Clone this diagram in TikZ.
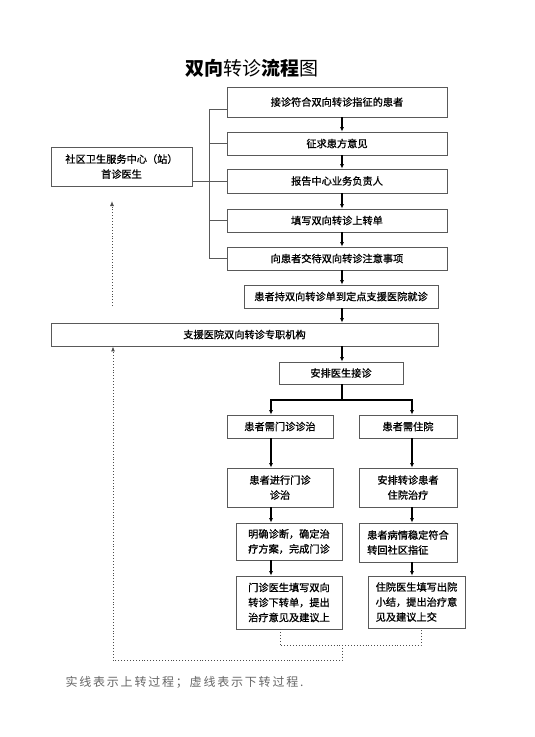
\documentclass[tikz,border=0pt]{standalone}
\usepackage{fontspec}
\setmainfont{Noto Sans CJK SC}
\newfontfamily\capfont[LetterSpace=15]{Noto Sans CJK SC}
\newfontfamily\boxfont[FakeBold=1]{Noto Sans CJK SC}
\usetikzlibrary{arrows.meta,positioning,calc}

\tikzset{
  box/.style={draw=black!65, line width=0.8pt, inner sep=2pt,
    font=\boxfont\fontsize{10.2}{15}\selectfont},
  arr/.style={-{Latex[length=4.5pt,width=4pt]}, line width=1.2pt},
  link/.style={draw=black!65, line width=0.8pt},
  back/.style={draw=black!70, line width=0.9pt, dotted},
}

\begin{document}
\begin{tikzpicture}[x=1pt,y=-1pt]
\useasboundingbox (0,0) rectangle (535,737);

\node (T) at (252,68) {\fontsize{19}{22}\selectfont\textbf{双向}转诊\textbf{流程}图};

% upper chain
\node[box, minimum width=220pt, minimum height=30pt] (B1) at (337,102) {接诊符合双向转诊指征的患者};
\node[box, minimum width=220pt, minimum height=23pt] (B2) at (337,143.5) {征求患方意见};
\node[box, minimum width=220pt, minimum height=24pt] (B3) at (337,181) {报告中心业务负责人};
\node[box, minimum width=220pt, minimum height=23pt] (B4) at (337,220.5) {填写双向转诊上转单};
\node[box, minimum width=220pt, minimum height=23pt] (B5) at (337,258.5) {向患者交待双向转诊注意事项};
\node[box, minimum width=194pt, minimum height=23pt] (B6) at (341,296.5) {患者持双向转诊单到定点支援医院就诊};

\node[box, minimum width=141pt, minimum height=39pt, align=center] (CM) at (121.5,166.5) {社区卫生服务中心（站）\\首诊医生\hspace*{0pt}};
\node[box, minimum width=387pt, minimum height=23pt] (SP) at (244.5,334.5) {支援医院双向转诊专职机构};
\node[box, minimum width=124pt, minimum height=22pt] (AP) at (341,373) {安排医生接诊};

% two branches
\node[box, minimum width=106pt, minimum height=23pt] (L1) at (280,426.5) {患者需门诊诊治};
\node[box, minimum width=98pt, minimum height=23pt] (R1) at (408,426.5) {患者需住院};
\node[box, minimum width=106pt, minimum height=39pt, align=center] (L2) at (280,487.5) {患者进行门诊\\诊治};
\node[box, minimum width=98pt, minimum height=39pt, align=center] (R2) at (408,487.5) {安排转诊患者\\住院治疗};
\node[box, minimum width=106pt, minimum height=37pt, align=left] (L3) at (289,541.5) {明确诊断，确定治\\疗方案，完成门诊};
\node[box, minimum width=98pt, minimum height=39pt, align=left] (R3) at (408,542.5) {患者病情稳定符合\\转回社区指征};
\node[box, minimum width=106pt, minimum height=53pt, align=left] (L4) at (289,602.5) {门诊医生填写双向\\转诊下转单，提出\\治疗意见及建议上};
\node[box, minimum width=97pt, minimum height=52pt, align=left] (R4) at (416.5,602) {住院医生填写出院\\小结，提出治疗意\\见及建议上交};

\node[anchor=west, text=black!60, font=\capfont\fontsize{12}{14}\selectfont] (CAP) at (62,682) {实线表示上转过程；虚线表示下转过程.};

\coordinate (ax) at (342,0);
\coordinate (lx) at (271,0);
\coordinate (rx) at (412,0);
\coordinate (bx) at (209,0);
\coordinate (S) at (342,400);

% solid arrows
\draw[arr] (B1.south -| ax) -- (B2.north -| ax);
\draw[arr] (B2.south -| ax) -- (B3.north -| ax);
\draw[arr] (B3.south -| ax) -- (B4.north -| ax);
\draw[arr] (B4.south -| ax) -- (B5.north -| ax);
\draw[arr] (B5.south -| ax) -- (B6.north -| ax);
\draw[arr] (B6.south -| ax) -- (SP.north -| ax);
\draw[arr] (SP.south -| ax) -- (AP.north -| ax);
\draw[line width=1.2pt] (AP.south -| ax) -- (S);
\draw[arr] (S) -| (L1.north -| lx);
\draw[arr] (S) -| (R1.north -| rx);
\draw[arr] (L1.south -| lx) -- (L2.north -| lx);
\draw[arr] (L2.south -| lx) -- (L3.north -| lx);
\draw[arr] (L3.south -| lx) -- (L4.north -| lx);
\draw[arr] (R1.south -| rx) -- (R2.north -| rx);
\draw[arr] (R2.south -| rx) -- (R3.north -| rx);
\draw[arr] (R3.south -| rx) -- (R4.north -| rx);

% bracket to community centre
\draw[link] ($(B1.west)+(0,7)$) -| (B5.west -| bx) -- (B5.west);
\draw[link] (B2.west -| bx) -- (B2.west);
\draw[link] (B4.west -| bx) -- (B4.west);
\draw[link] (CM.east |- B3.west) -- (B3.west);

% dotted return
\coordinate (U1) at (112,306);
\coordinate (U2) at (112,201);
\draw[back, -{Latex[length=5pt,width=4pt]}] (U1) -- (U2);
\coordinate (D1) at (342,645);
\coordinate (D2) at (113,660);
\draw[back] ($(L4.south)+(-9,0)$) -- ++(0,16) -| ($(R4.south)+(4.5,0)$);
\draw[back, -{Latex[length=5pt,width=4pt]}] (D1) |- (D2) -- (SP.south -| D2);
\end{tikzpicture}
\end{document}
